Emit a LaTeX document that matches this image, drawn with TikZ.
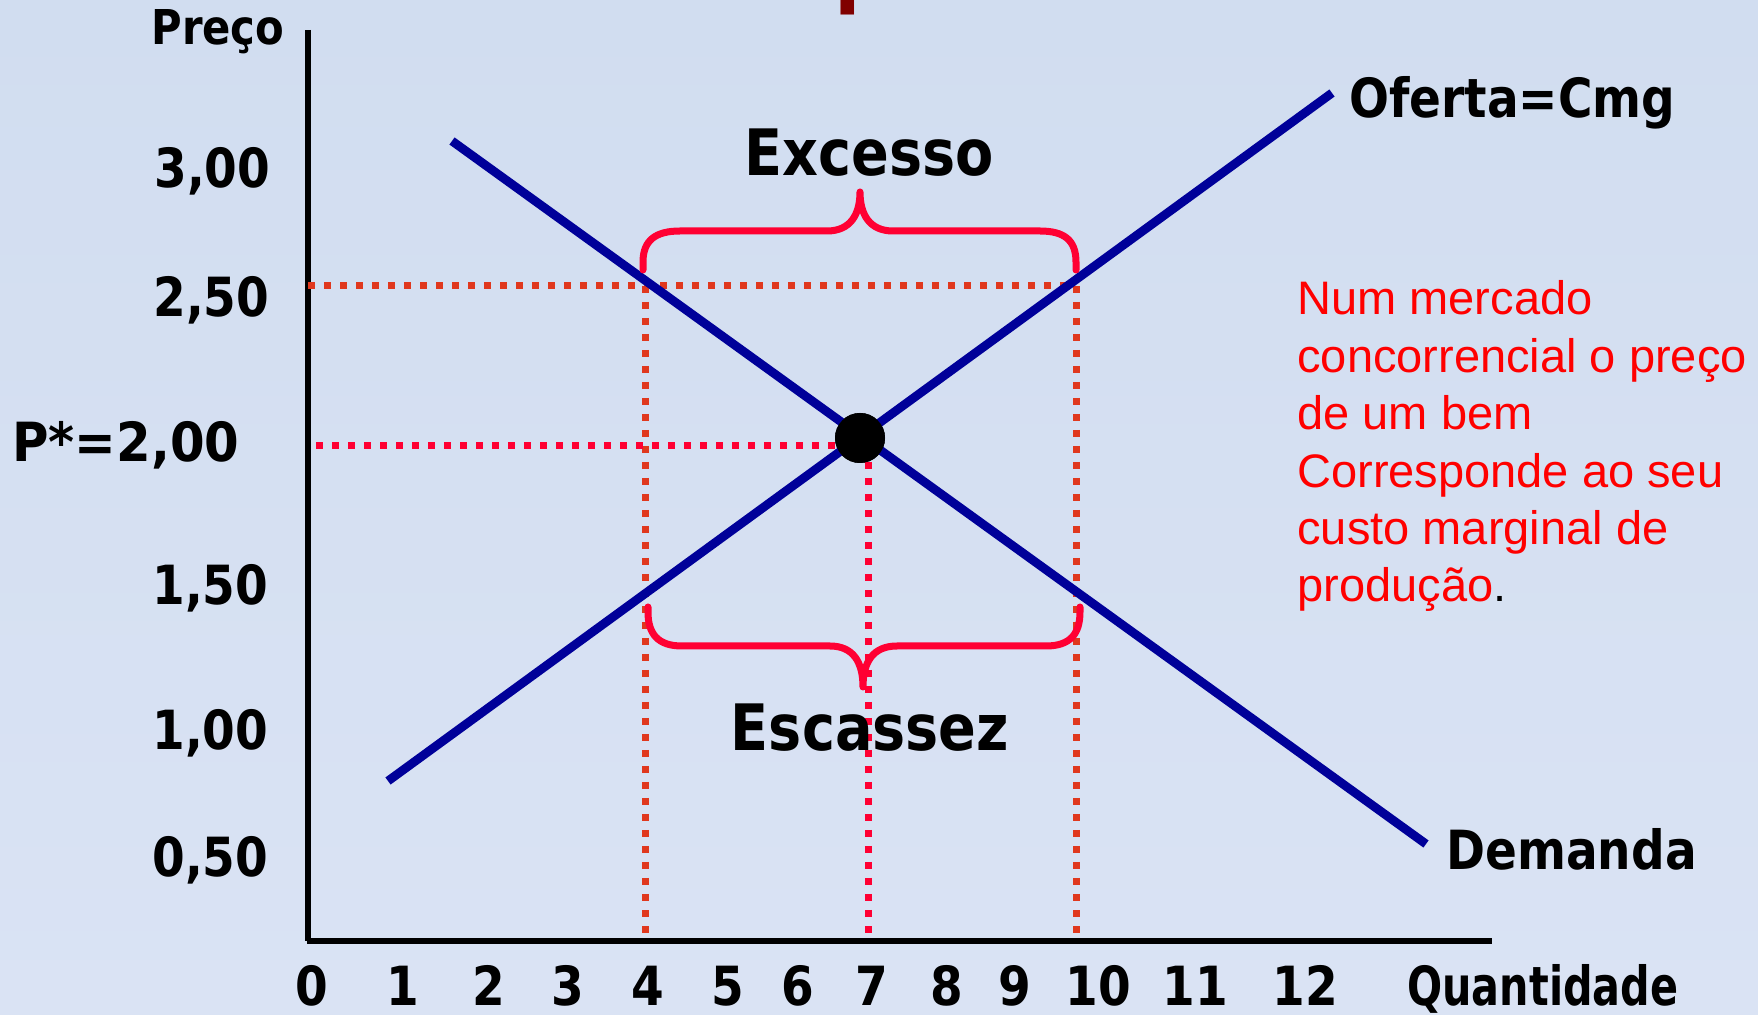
\documentclass[tikz,border=0pt]{standalone}
\usepackage{fontspec}
\newfontfamily\tb{DejaVu Sans}[FakeStretch=0.87]
\newfontfamily\ar{Liberation Sans}
\definecolor{bgtop}{RGB}{209,221,240}
\definecolor{bgmid}{RGB}{194,210,236}
\definecolor{bgbot}{RGB}{218,227,244}
\definecolor{navy}{RGB}{0,0,153}
\definecolor{brc}{RGB}{255,0,51}
\definecolor{dotc}{RGB}{224,56,30}
\definecolor{dkred}{RGB}{128,0,0}
\tikzset{
  lbl/.style={font=\tb\bfseries\fontsize{27}{30}\selectfont, inner sep=0pt, text=black},
  big/.style={font=\tb\bfseries\fontsize{32}{36}\selectfont, inner sep=0pt, text=black},
  curve/.style={draw=navy, line width=4.4pt},
  axisline/.style={draw=black, line width=3pt},
  dots/.style={draw=dotc, line width=3.5pt, dash pattern=on 3.5pt off 4.5pt},
  rdots/.style={draw=brc, line width=3.5pt, dash pattern=on 3.5pt off 4.5pt},
  brace/.style={draw=brc, line width=3.5pt, line cap=round, line join=round},
  note/.style={font=\ar\fontsize{23.5}{28.7}\selectfont, text=red, inner sep=0pt, align=left},
  eqdot/.style={circle, fill=black, minimum size=25pt, inner sep=0pt}
}
\begin{document}
\begin{tikzpicture}[x=0.5pt,y=-0.5pt]
\useasboundingbox (0,0) rectangle (1758,1015);
\shade[top color=bgtop, middle color=bgmid, bottom color=bgbot] (0,0) rectangle (1758,1015);

% cut-off title
\node[font=\tb\bfseries\fontsize{44.5}{50}\selectfont, text=dkred, inner sep=0pt, anchor=base west] (title) at (654,-3) {competitivo};

% axes
\coordinate (o) at (308,941);
\coordinate (ytop) at (308,30);
\coordinate (xend) at (1492,941);
\draw[axisline] (ytop) -- (o);
\draw[axisline, line width=3.4pt] (306.5,941) -- (xend);

% dotted guides
\coordinate (h25l) at (308,286);
\coordinate (h25r) at (1076,286);
\coordinate (v4t) at (645,286);
\coordinate (v4b) at (645,938);
\coordinate (v10b) at (1076,938);
\coordinate (h20l) at (316,446);
\coordinate (v7t) at (868,446);
\coordinate (v7b) at (868,938);
\node[eqdot] (eq) at (860,438) {};
\draw[dots] (h25l) -- (h25r);
\draw[dots] (v4t) -- (v4b);
\draw[dots] (h25r) -- (v10b);
\draw[rdots] (h20l) -- (h20l -| eq);
\draw[rdots] (v7t) -- (v7b);

% curves
\coordinate (d1) at (452,141);
\coordinate (d2) at (1426,844);
\coordinate (s1) at (388,781);
\coordinate (s2) at (1332,93);
\draw[curve] (d1) -- (d2);
\draw[curve] (s1) -- (s2);
\node[eqdot] at (eq) {};

% braces
\draw[brace] (643,270) -- (643,262) .. controls (643,240) and (656,231) .. (680,231)
  -- (827,231) .. controls (850,231) and (860,215) .. (860,192)
  .. controls (860,215) and (870,231) .. (893,231)
  -- (1040,231) .. controls (1064,231) and (1076,240) .. (1076,262) -- (1076,270);
\draw[brace] (648,607) -- (648,612) .. controls (648,634) and (658,646) .. (682,646)
  -- (830,646) .. controls (853,646) and (863,662) .. (863,687)
  .. controls (863,662) and (873,646) .. (897,646)
  -- (1046,646) .. controls (1070,646) and (1080,634) .. (1080,612) -- (1080,607);

% y labels
\node[lbl, font=\tb\bfseries\fontsize{24}{28}\selectfont, anchor=base west] (preco) at (151,45) {Preço};
\node[lbl, anchor=base west] (y300) at (154,188) {3,00};
\node[lbl, anchor=base west] (y250) at (153,317) {2,50};
\node[lbl, anchor=base west] (y200) at (12,462) {\scalebox{1.06}[1]{P*=2,00}};
\node[lbl, anchor=base west] (y150) at (152,605) {1,50};
\node[lbl, anchor=base west] (y100) at (152,750) {1,00};
\node[lbl, anchor=base west] (y050) at (152,877) {0,50};

% x labels
\foreach \n/\cx in {0/312,1/403,2/489,3/568,4/648,5/728,6/798,7/872,8/947,9/1015,10/1098,11/1195,12/1305}
  \node[lbl, anchor=base] (x\n) at (\cx,1005) {\n};
\node[lbl, anchor=base west] (quant) at (1407,1005) {\scalebox{0.88}[1]{Quantidade}};

% curve labels
\node[lbl, anchor=base west] (oferta) at (1349,118) {Oferta=Cmg};
\node[lbl, anchor=base west] (demanda) at (1446,870) {Demanda};
\node[big, anchor=base] (excesso) at (869,176) {Excesso};
\node[big, anchor=base] (escassez) at (870,751) {Escassez};

% note
\node[note, anchor=base west] (nota) at (1297,602) {Num mercado\\concorrencial o preço\\de um bem\\Corresponde ao seu\\custo marginal de\\produção\textcolor{black}{.}};
\end{tikzpicture}
\end{document}
